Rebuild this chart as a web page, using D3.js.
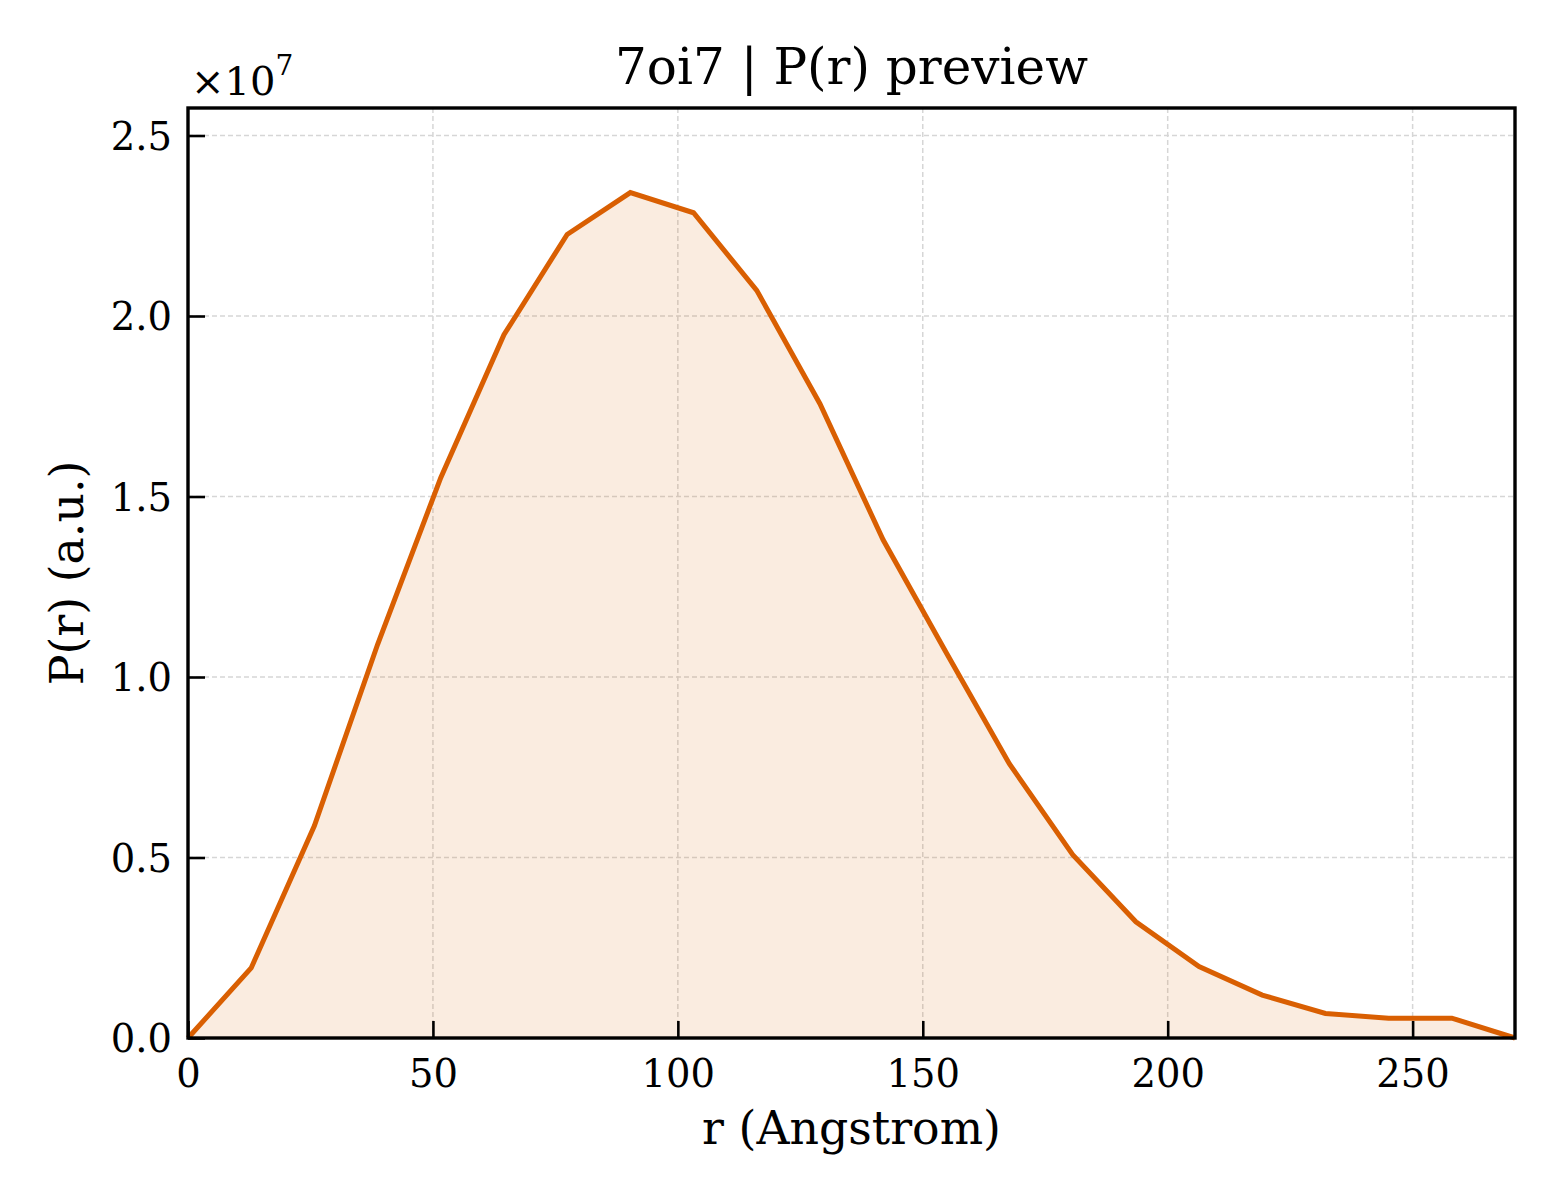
<!DOCTYPE html>
<html>
<head>
<meta charset="utf-8">
<script src="https://cdn.jsdelivr.net/npm/d3@7"></script>
<style>
  body { margin: 0; background: #fff; }
  svg text { font-family: "DejaVu Serif", serif; fill: #000; }
</style>
</head>
<body>
<script>
// r in Angstrom and P(r) in units of 1e7
const rValues = [0, 12.9, 25.8, 38.7, 51.6, 64.5, 77.4, 90.3, 103.2, 116.1, 129.0,
    141.9, 154.8, 167.7, 180.6, 193.5, 206.4, 219.3, 232.2, 245.1, 258.0, 270.9];
const prValues = [0, 0.194, 0.588, 1.09, 1.552, 1.948, 2.226, 2.342, 2.286, 2.071, 1.757,
    1.38, 1.067, 0.759, 0.508, 0.322, 0.198, 0.119, 0.068, 0.055, 0.055, 0];
const xTicks = [0, 50, 100, 150, 200, 250];
const yTicks = [0, 0.5, 1.0, 1.5, 2.0, 2.5];

const w = 1560;
const h = 1200;
const plotLeft = 188, plotRight = 1515, plotTop = 108, plotBottom = 1038;

const svg = d3.select("body")
    .append("svg")
    .attr("width", w)
    .attr("height", h);

const data = rValues.map(function (r, i) {
    return { r: r, p: prValues[i] };
});

const xScale = d3.scaleLinear()
    .domain([0, d3.max(rValues)])
    .range([plotLeft, plotRight]);

const yScale = d3.scaleLinear()
    .domain([0, d3.max(prValues) * 1.1])
    .range([plotBottom, plotTop]);

// dashed grid
const grid = svg.append("g");
grid.selectAll("line.gx")
    .data(xTicks.filter(function (d) { return d > 0; }))
    .enter()
    .append("line")
    .attr("x1", function (d) { return xScale(d); })
    .attr("x2", function (d) { return xScale(d); })
    .attr("y1", plotTop)
    .attr("y2", plotBottom);
grid.selectAll("line.gy")
    .data(yTicks.filter(function (d) { return d > 0; }))
    .enter()
    .append("line")
    .attr("x1", plotLeft)
    .attr("x2", plotRight)
    .attr("y1", function (d) { return yScale(d); })
    .attr("y2", function (d) { return yScale(d); });
grid.selectAll("line")
    .attr("stroke", "#d6d6d6")
    .attr("stroke-width", 1.5)
    .attr("stroke-dasharray", "5,3");

// filled area and line
svg.append("path")
    .datum(data)
    .attr("fill", "#d95f02")
    .attr("fill-opacity", 0.12)
    .attr("d", d3.area()
        .x(function (d) { return xScale(d.r); })
        .y0(yScale(0))
        .y1(function (d) { return yScale(d.p); }));

svg.append("path")
    .datum(data)
    .attr("fill", "none")
    .attr("stroke", "#d95f02")
    .attr("stroke-width", 5)
    .attr("stroke-linejoin", "miter")
    .attr("d", d3.line()
        .x(function (d) { return xScale(d.r); })
        .y(function (d) { return yScale(d.p); }));

// axes with inward ticks
const xAxis = svg.append("g")
    .attr("transform", "translate(0," + plotBottom + ")")
    .call(d3.axisBottom(xScale).tickValues(xTicks).tickSizeInner(-17).tickSizeOuter(0)
        .tickFormat(d3.format("d")));
const yAxis = svg.append("g")
    .attr("transform", "translate(" + plotLeft + ",0)")
    .call(d3.axisLeft(yScale).tickValues(yTicks).tickSizeInner(-17).tickSizeOuter(0)
        .tickFormat(d3.format(".1f")));

[xAxis, yAxis].forEach(function (ax) {
    ax.select(".domain").remove();
    ax.selectAll(".tick line").attr("stroke", "#000").attr("stroke-width", 2.6);
    ax.selectAll(".tick text")
        .style("font-family", "DejaVu Serif, serif")
        .style("font-size", "38.5px")
        .attr("fill", "#000");
});
xAxis.selectAll(".tick text").attr("y", 0).attr("dy", null)
    .attr("transform", "translate(0,49)");
yAxis.selectAll(".tick text").attr("x", -16).attr("dy", "0.36em");

// frame
svg.append("rect")
    .attr("x", plotLeft)
    .attr("y", plotTop)
    .attr("width", plotRight - plotLeft)
    .attr("height", plotBottom - plotTop)
    .attr("fill", "none")
    .attr("stroke", "#000")
    .attr("stroke-width", 3.4);

// offset text
const off = svg.append("text")
    .attr("x", 191)
    .attr("y", 95)
    .style("font-size", "40px");
off.append("tspan").text("×10");
off.append("tspan")
    .attr("dy", -20)
    .style("font-size", "28px")
    .text("7");

// title and labels
svg.append("text")
    .attr("text-anchor", "middle")
    .attr("x", (plotLeft + plotRight) / 2)
    .attr("y", 84)
    .style("font-size", "50px")
    .text("7oi7 | P(r) preview");

svg.append("text")
    .attr("text-anchor", "middle")
    .attr("x", (plotLeft + plotRight) / 2)
    .attr("y", 1144)
    .style("font-size", "45.8px")
    .text("r (Angstrom)");

svg.append("text")
    .attr("text-anchor", "middle")
    .attr("transform", "translate(83," + ((plotTop + plotBottom) / 2) + ")rotate(-90)")
    .style("font-size", "45.8px")
    .text("P(r) (a.u.)");
</script>
</body>
</html>
